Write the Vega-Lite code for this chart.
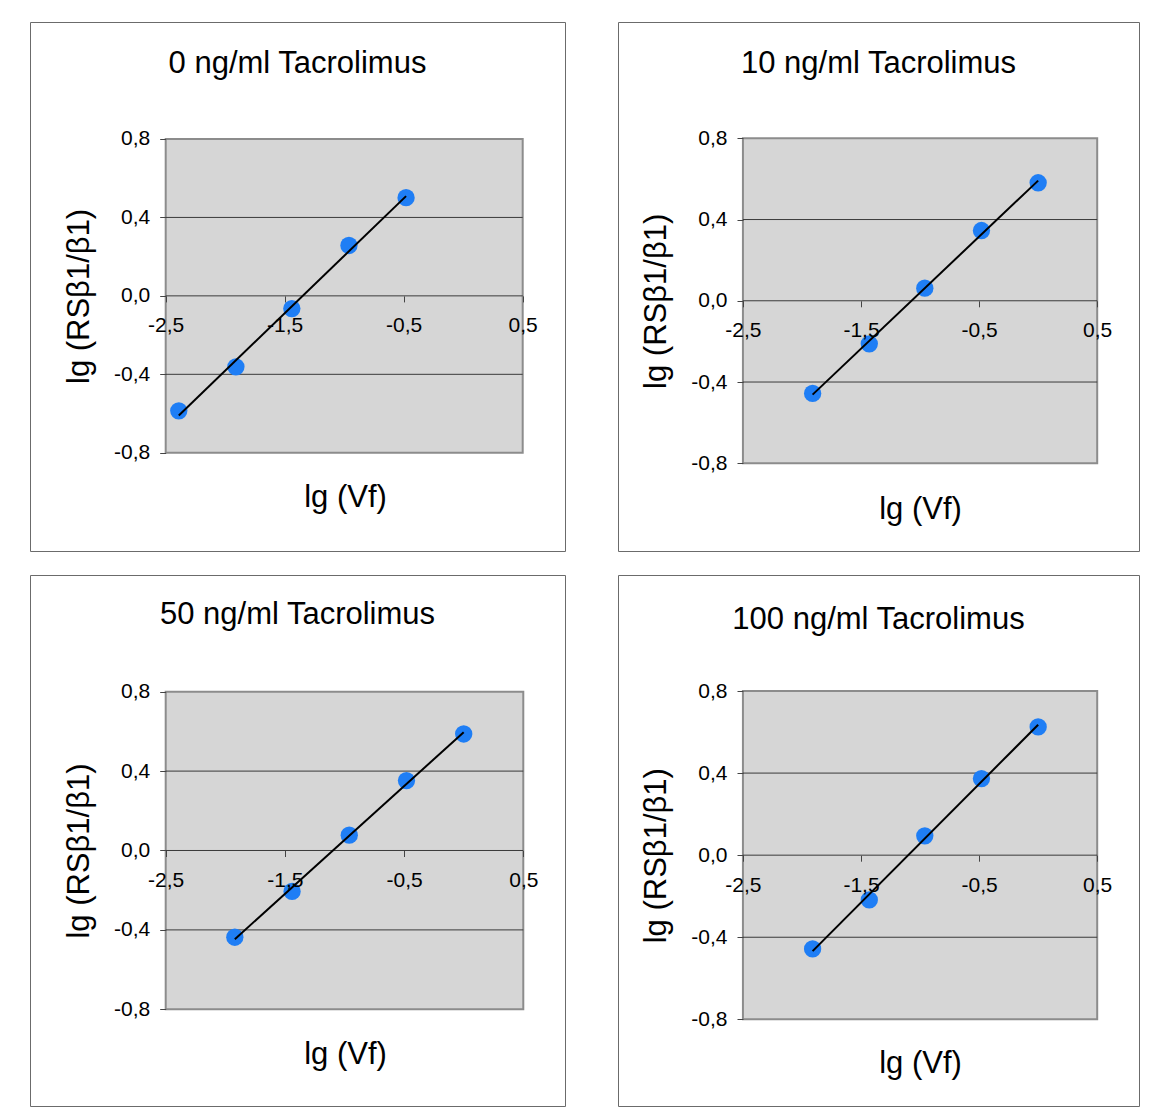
{
  "$schema": "https://vega.github.io/schema/vega-lite/v6.json",
  "padding": {"left": 29, "top": 21, "right": 0, "bottom": 0},
  "background": "white",
  "datasets": {
    "p0": [
      {"x": -2.39, "y": -0.586},
      {"x": -1.91, "y": -0.362},
      {"x": -1.44, "y": -0.065},
      {"x": -0.96, "y": 0.257},
      {"x": -0.48, "y": 0.501}
    ],
    "p10": [
      {"x": -1.91, "y": -0.456},
      {"x": -1.43, "y": -0.212},
      {"x": -0.96, "y": 0.062},
      {"x": -0.48, "y": 0.346},
      {"x": 0.0, "y": 0.581}
    ],
    "p50": [
      {"x": -1.92, "y": -0.437},
      {"x": -1.44, "y": -0.206},
      {"x": -0.96, "y": 0.077},
      {"x": -0.48, "y": 0.352},
      {"x": 0.0, "y": 0.587}
    ],
    "p100": [
      {"x": -1.91, "y": -0.457},
      {"x": -1.43, "y": -0.218},
      {"x": -0.96, "y": 0.094},
      {"x": -0.48, "y": 0.373},
      {"x": 0.0, "y": 0.625}
    ]
  },
  "vconcat": [
    {
      "hconcat": [
        {
          "width": 535, "height": 529,
          "title": {"text": "0 ng/ml Tacrolimus", "offset": -82, "baseline": "alphabetic"},
          "data": {"name": "p0"},
          "layer": [
            {"data": {"values": [{}]}, "mark": {"type": "rect", "fill": "#d6d6d6", "stroke": "#8c8c8c", "strokeWidth": 2},
             "encoding": {"x": {"datum": -2.5, "type": "quantitative", "scale": {"domain": [-3.6403, 0.8555], "nice": false, "zero": false}}, "x2": {"datum": 0.5},
                          "y": {"datum": -0.8, "type": "quantitative", "scale": {"domain": [-1.301, 1.3966], "nice": false, "zero": false}}, "y2": {"datum": 0.8}}},
            {"data": {"values": [{"g": -0.4}, {"g": 0}, {"g": 0.4}]}, "mark": {"type": "rule", "color": "#3a3a3a", "strokeWidth": 1},
             "encoding": {"y": {"field": "g", "type": "quantitative", "scale": {"domain": [-1.301, 1.3966], "nice": false, "zero": false}},
                          "x": {"datum": -2.5, "type": "quantitative", "scale": {"domain": [-3.6403, 0.8555], "nice": false, "zero": false}}, "x2": {"datum": 0.5}}},
            {"mark": {"type": "circle", "size": 300, "color": "#1f7ef5", "opacity": 1},
             "encoding": {
               "x": {"field": "x", "type": "quantitative", "scale": {"domain": [-3.6403, 0.8555], "nice": false, "zero": false},
                     "axis": {"values": [-2.5, -1.5, -0.5, 0.5], "offset": -255.1, "title": "lg (Vf)", "titleX": 315, "titleY": 202, "zindex": 1}},
               "y": {"field": "y", "type": "quantitative", "scale": {"domain": [-1.301, 1.3966], "nice": false, "zero": false},
                     "axis": {"values": [-0.8, -0.4, 0, 0.4, 0.8], "offset": -135.7, "title": "lg (RSβ1/β1)", "titleY": 273.9, "zindex": 1}}}},
            {"transform": [{"regression": "y", "on": "x"}], "mark": {"type": "line", "color": "black", "strokeWidth": 2},
             "encoding": {"x": {"field": "x", "type": "quantitative", "scale": {"domain": [-3.6403, 0.8555], "nice": false, "zero": false}},
                          "y": {"field": "y", "type": "quantitative", "scale": {"domain": [-1.301, 1.3966], "nice": false, "zero": false}}}}
          ]
        },
        {
          "width": 521, "height": 529,
          "title": {"text": "10 ng/ml Tacrolimus", "offset": -82, "baseline": "alphabetic"},
          "data": {"name": "p10"},
          "layer": [
            {"data": {"values": [{}]}, "mark": {"type": "rect", "fill": "#d6d6d6", "stroke": "#8c8c8c", "strokeWidth": 2},
             "encoding": {"x": {"datum": -2.5, "type": "quantitative", "scale": {"domain": [-3.558, 0.854], "nice": false, "zero": false}}, "x2": {"datum": 0.5},
                          "y": {"datum": -0.8, "type": "quantitative", "scale": {"domain": [-1.232, 1.3726], "nice": false, "zero": false}}, "y2": {"datum": 0.8}}},
            {"data": {"values": [{"g": -0.4}, {"g": 0}, {"g": 0.4}]}, "mark": {"type": "rule", "color": "#3a3a3a", "strokeWidth": 1},
             "encoding": {"y": {"field": "g", "type": "quantitative", "scale": {"domain": [-1.232, 1.3726], "nice": false, "zero": false}},
                          "x": {"datum": -2.5, "type": "quantitative", "scale": {"domain": [-3.558, 0.854], "nice": false, "zero": false}}, "x2": {"datum": 0.5}}},
            {"mark": {"type": "circle", "size": 300, "color": "#1f7ef5", "opacity": 1},
             "encoding": {
               "x": {"field": "x", "type": "quantitative", "scale": {"domain": [-3.558, 0.854], "nice": false, "zero": false},
                     "axis": {"values": [-2.5, -1.5, -0.5, 0.5], "offset": -250.2, "title": "lg (Vf)", "titleX": 302, "titleY": 209, "zindex": 1}},
               "y": {"field": "y", "type": "quantitative", "scale": {"domain": [-1.232, 1.3726], "nice": false, "zero": false},
                     "axis": {"values": [-0.8, -0.4, 0, 0.4, 0.8], "offset": -125, "title": "lg (RSβ1/β1)", "titleY": 278.8, "zindex": 1}}}},
            {"transform": [{"regression": "y", "on": "x"}], "mark": {"type": "line", "color": "black", "strokeWidth": 2},
             "encoding": {"x": {"field": "x", "type": "quantitative", "scale": {"domain": [-3.558, 0.854], "nice": false, "zero": false}},
                          "y": {"field": "y", "type": "quantitative", "scale": {"domain": [-1.232, 1.3726], "nice": false, "zero": false}}}}
          ]
        }
      ],
      "spacing": 51
    },
    {
      "hconcat": [
        {
          "width": 535, "height": 531,
          "title": {"text": "50 ng/ml Tacrolimus", "offset": -80, "baseline": "alphabetic"},
          "data": {"name": "p50"},
          "layer": [
            {"data": {"values": [{}]}, "mark": {"type": "rect", "fill": "#d6d6d6", "stroke": "#8c8c8c", "strokeWidth": 2},
             "encoding": {"x": {"datum": -2.5, "type": "quantitative", "scale": {"domain": [-3.6384, 0.8499], "nice": false, "zero": false}}, "x2": {"datum": 0.5},
                          "y": {"datum": -0.8, "type": "quantitative", "scale": {"domain": [-1.2872, 1.3879], "nice": false, "zero": false}}, "y2": {"datum": 0.8}}},
            {"data": {"values": [{"g": -0.4}, {"g": 0}, {"g": 0.4}]}, "mark": {"type": "rule", "color": "#3a3a3a", "strokeWidth": 1},
             "encoding": {"y": {"field": "g", "type": "quantitative", "scale": {"domain": [-1.2872, 1.3879], "nice": false, "zero": false}},
                          "x": {"datum": -2.5, "type": "quantitative", "scale": {"domain": [-3.6384, 0.8499], "nice": false, "zero": false}}, "x2": {"datum": 0.5}}},
            {"mark": {"type": "circle", "size": 300, "color": "#1f7ef5", "opacity": 1},
             "encoding": {
               "x": {"field": "x", "type": "quantitative", "scale": {"domain": [-3.6384, 0.8499], "nice": false, "zero": false},
                     "axis": {"values": [-2.5, -1.5, -0.5, 0.5], "offset": -255.5, "title": "lg (Vf)", "titleX": 315, "titleY": 203.5, "zindex": 1}},
               "y": {"field": "y", "type": "quantitative", "scale": {"domain": [-1.2872, 1.3879], "nice": false, "zero": false},
                     "axis": {"values": [-0.8, -0.4, 0, 0.4, 0.8], "offset": -135.7, "title": "lg (RSβ1/β1)", "titleY": 275.5, "zindex": 1}}}},
            {"transform": [{"regression": "y", "on": "x"}], "mark": {"type": "line", "color": "black", "strokeWidth": 2},
             "encoding": {"x": {"field": "x", "type": "quantitative", "scale": {"domain": [-3.6384, 0.8499], "nice": false, "zero": false}},
                          "y": {"field": "y", "type": "quantitative", "scale": {"domain": [-1.2872, 1.3879], "nice": false, "zero": false}}}}
          ]
        },
        {
          "width": 521, "height": 531,
          "title": {"text": "100 ng/ml Tacrolimus", "offset": -85, "baseline": "alphabetic"},
          "data": {"name": "p100"},
          "layer": [
            {"data": {"values": [{}]}, "mark": {"type": "rect", "fill": "#d6d6d6", "stroke": "#8c8c8c", "strokeWidth": 2},
             "encoding": {"x": {"datum": -2.5, "type": "quantitative", "scale": {"domain": [-3.558, 0.854], "nice": false, "zero": false}}, "x2": {"datum": 0.5},
                          "y": {"datum": -0.8, "type": "quantitative", "scale": {"domain": [-1.2224, 1.3653], "nice": false, "zero": false}}, "y2": {"datum": 0.8}}},
            {"data": {"values": [{"g": -0.4}, {"g": 0}, {"g": 0.4}]}, "mark": {"type": "rule", "color": "#3a3a3a", "strokeWidth": 1},
             "encoding": {"y": {"field": "g", "type": "quantitative", "scale": {"domain": [-1.2224, 1.3653], "nice": false, "zero": false}},
                          "x": {"datum": -2.5, "type": "quantitative", "scale": {"domain": [-3.558, 0.854], "nice": false, "zero": false}}, "x2": {"datum": 0.5}}},
            {"mark": {"type": "circle", "size": 300, "color": "#1f7ef5", "opacity": 1},
             "encoding": {
               "x": {"field": "x", "type": "quantitative", "scale": {"domain": [-3.558, 0.854], "nice": false, "zero": false},
                     "axis": {"values": [-2.5, -1.5, -0.5, 0.5], "offset": -250.8, "title": "lg (Vf)", "titleX": 302, "titleY": 208, "zindex": 1}},
               "y": {"field": "y", "type": "quantitative", "scale": {"domain": [-1.2224, 1.3653], "nice": false, "zero": false},
                     "axis": {"values": [-0.8, -0.4, 0, 0.4, 0.8], "offset": -125, "title": "lg (RSβ1/β1)", "titleY": 280.2, "zindex": 1}}}},
            {"transform": [{"regression": "y", "on": "x"}], "mark": {"type": "line", "color": "black", "strokeWidth": 2},
             "encoding": {"x": {"field": "x", "type": "quantitative", "scale": {"domain": [-3.558, 0.854], "nice": false, "zero": false}},
                          "y": {"field": "y", "type": "quantitative", "scale": {"domain": [-1.2224, 1.3653], "nice": false, "zero": false}}}}
          ]
        }
      ],
      "spacing": 51
    }
  ],
  "spacing": 22,
  "config": {
    "font": "Liberation Sans",
    "locale": {"number": {"decimal": ",", "thousands": ".", "grouping": [3], "currency": ["", " €"], "minus": "-"}},
    "view": {"stroke": "#6b6b6b", "strokeWidth": 1},
    "title": {"font": "Liberation Sans", "fontSize": 31, "fontWeight": "normal", "color": "black", "anchor": "middle"},
    "axis": {
      "format": ".1f",
      "domain": false,
      "grid": false,
      "ticks": true,
      "tickSize": 6,
      "tickColor": "#444444",
      "tickWidth": 1,
      "labelFont": "Liberation Sans",
      "labelFontSize": 21,
      "labelColor": "black",
      "labelFlush": false,
      "labelOverlap": false,
      "titleFont": "Liberation Sans",
      "titleFontSize": 31,
      "titleFontWeight": "normal",
      "titleColor": "black",
      "zindex": 1
    },
    "axisX": {"labelPadding": 13, "titleBaseline": "middle", "titleAlign": "center", "titleAngle": 0},
    "axisY": {"labelPadding": 10, "titlePadding": 18}
  }
}
